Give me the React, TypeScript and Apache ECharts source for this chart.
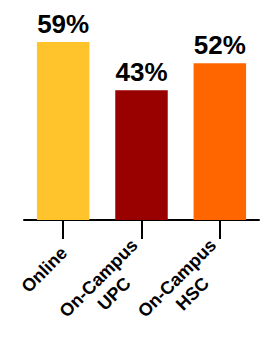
import React, { useEffect, useRef } from "react";
import * as echarts from "echarts";

const categories = ["Online", "On-Campus\nUPC", "On-Campus\nHSC"];
const values = [59, 43, 52];
const colors = ["#FFC32B", "#990000", "#FF6600"];

const FONT = "Arial";
const LABEL_SIZE = 18;
const LINE_H = 22;

function measure(text: string): number {
  const c = document.createElement("canvas");
  const ctx = c.getContext("2d");
  if (!ctx) return text.length * LABEL_SIZE * 0.6;
  ctx.font = `bold ${LABEL_SIZE}px ${FONT}`;
  return ctx.measureText(text).width;
}

export default function App() {
  const ref = useRef<HTMLDivElement>(null);
  useEffect(() => {
    if (!ref.current) return;
    const chart = echarts.init(ref.current, null, { renderer: "svg" });
    chart.setOption({
      animation: false,
      grid: { left: 24, right: 2, top: 39, bottom: 121, containLabel: false },
      xAxis: {
        type: "category",
        data: categories,
        axisLine: { show: true, lineStyle: { color: "#000", width: 2 } },
        axisTick: { show: true, interval: 0, alignWithLabel: true, length: 19, lineStyle: { color: "#000", width: 2 } },
        axisLabel: { show: false, interval: 0 },
      },
      yAxis: { type: "value", min: 0, max: 60, show: false, splitLine: { show: false } },
      series: [
        {
          type: "bar",
          barCategoryGap: "33%",
          data: values.map((v, i) => ({ value: v, itemStyle: { color: colors[i] } })),
          label: {
            show: true,
            position: "top",
            distance: 5,
            formatter: "{c}%",
            fontSize: 26,
            fontWeight: "bold",
            fontFamily: "Liberation Sans, Arial, sans-serif",
            color: "#000",
          },
        },
      ],
    });

    const axisY = chart.convertToPixel({ yAxisIndex: 0 }, 0) as number;
    const cs = Math.SQRT1_2;
    const texts: any[] = [];
    categories.forEach((cat, i) => {
      const tx = chart.convertToPixel({ xAxisIndex: 0 }, i) as number;
      const ax = tx + 1;
      const ay = axisY + 30;
      const lines = cat.split("\n");
      const widths = lines.map(measure);
      const W = Math.max(...widths);
      const n = lines.length;
      lines.forEach((s, k) => {
        const lx = -W / 2 - widths[k] / 2;
        const ly = -(n * LINE_H) / 2 + k * LINE_H + (LINE_H - LABEL_SIZE) / 2;
        texts.push({
          type: "text",
          x: ax + lx * cs + ly * cs,
          y: ay - lx * cs + ly * cs,
          rotation: Math.PI / 4,
          style: {
            text: s,
            font: `bold ${LABEL_SIZE}px ${FONT}`,
            fill: "#000",
          },
        });
      });
    });
    chart.setOption({ graphic: texts });

    return () => chart.dispose();
  }, []);
  return (
    <div
      ref={ref}
      style={{ position: "fixed", left: 0, top: 0, width: 261, height: 341, background: "#fff" }}
    />
  );
}
